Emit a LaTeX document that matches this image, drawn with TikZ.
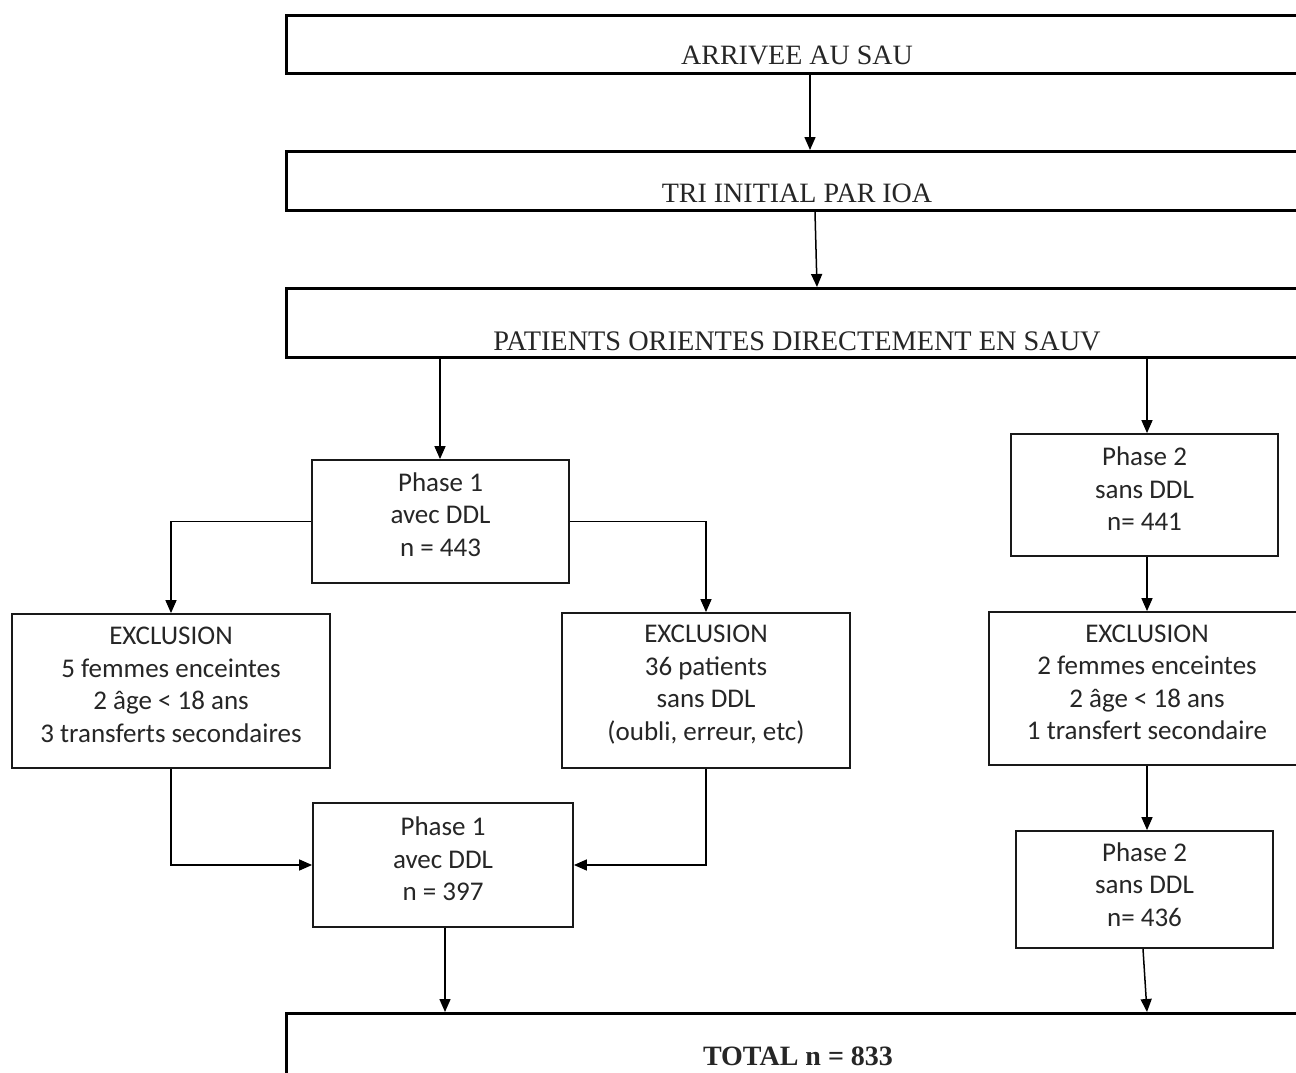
\documentclass[tikz,border=0pt]{standalone}
\usepackage{fontspec}
\setmainfont{Carlito}
\newfontfamily\serifb{Liberation Serif}
\usetikzlibrary{arrows.meta}
\begin{document}
\begin{tikzpicture}[x=1pt,y=-1pt,
  small/.style={draw=black!90, line width=1.8pt, inner sep=0pt},
  txt/.style={align=center, inner sep=0pt, font=\fontsize{27}{32.5}\selectfont, text=black!85},
  big/.style={draw=black, line width=3.2pt, inner sep=0pt},
  bigtext/.style={font=\serifb\fontsize{28}{30}\selectfont, anchor=base, inner sep=0pt, text=black!85},
  arr/.style={draw=black, line width=1.5pt, -{Triangle[length=13pt,width=11pt]}},
]
\clip (0,0) rectangle (1296,1073);
\fill[white] (0,0) rectangle (1296,1073);

% big boxes (right edges lie outside the page)
\node[big, minimum width=1100pt, minimum height=58pt, anchor=north west] (b1) at (285,14) {};
\node[big, minimum width=1100pt, minimum height=59pt, anchor=north west] (b2) at (285,150) {};
\node[big, minimum width=1100pt, minimum height=69pt, anchor=north west] (b3) at (285,287) {};
\node[big, minimum width=1100pt, minimum height=100pt, anchor=north west] (tot) at (285,1012) {};

\node[bigtext] (t1) at (797,64) {ARRIVEE AU SAU};
\node[bigtext] (t2) at (797,202) {TRI INITIAL PAR IOA};
\node[bigtext, font=\serifb\fontsize{28.3}{30}\selectfont] (t3) at (797,350) {PATIENTS ORIENTES DIRECTEMENT EN SAUV};
\node[bigtext, font=\serifb\bfseries\fontsize{28}{30}\selectfont] (t4) at (798,1065) {TOTAL n = 833};

% small boxes
\node[small, minimum width=257pt, minimum height=123pt] (p1) at (440.5,521.5) {};
\node[small, minimum width=267pt, minimum height=122pt] (p2) at (1144.5,495) {};
\node[small, minimum width=318pt, minimum height=154pt] (e1) at (171,691) {};
\node[small, minimum width=288pt, minimum height=155pt] (e2) at (706,690.5) {};
\node[small, minimum width=316pt, minimum height=153pt] (e3) at (1147,688.5) {};
\node[small, minimum width=260pt, minimum height=124pt] (q1) at (443,865) {};
\node[small, minimum width=257pt, minimum height=117pt] (q2) at (1144.5,889.5) {};

% texts of the small boxes
\node[txt] (p1t) at ([yshift=7pt]p1.center) {Phase 1\\avec DDL\\n = 443};
\node[txt] (p2t) at ([yshift=6pt]p2.center) {Phase 2\\sans DDL\\n= 441};
\node[txt] (e1t) at ([yshift=6pt]e1.center) {EXCLUSION\\5 femmes enceintes\\2 âge < 18 ans\\3 transferts secondaires};
\node[txt] (e2t) at ([yshift=6pt]e2.center) {EXCLUSION\\36 patients\\sans DDL\\(oubli, erreur, etc)};
\node[txt] (e3t) at ([yshift=6pt]e3.center) {EXCLUSION\\2 femmes enceintes\\2 âge < 18 ans\\1 transfert secondaire};
\node[txt] (q1t) at ([yshift=6pt]q1.center) {Phase 1\\avec DDL\\n = 397};
\node[txt] (q2t) at ([yshift=5pt]q2.center) {Phase 2\\sans DDL\\n= 436};

% connector columns
\coordinate (c810) at (810,0);
\coordinate (c815) at (815,0);
\coordinate (c817) at (817,0);
\coordinate (c440) at (440,0);
\coordinate (c1147) at (1147,0);
\coordinate (c1143) at (1143,0);
\coordinate (c445) at (445,0);

\draw[arr] (b1.south -| c810) -- (b2.north -| c810);
\draw[arr] (b2.south -| c815) -- (b3.north -| c817);
\draw[arr] (b3.south -| c440) -- (p1.north -| c440);
\draw[arr] (b3.south -| c1147) -- (p2.north -| c1147);
\draw[arr] (p1.west) -| (e1.north);
\draw[arr] (p1.east) -| (e2.north);
\draw[arr] (p2.south -| c1147) -- (e3.north);
\draw[arr] (e3.south) -- (q2.north -| c1147);
\draw[arr] (e1.south) |- (q1.west);
\draw[arr] (e2.south) |- (q1.east);
\draw[arr] (q1.south -| c445) -- (tot.north -| c445);
\draw[arr] (q2.south -| c1143) -- (tot.north -| c1147);
\end{tikzpicture}
\end{document}
